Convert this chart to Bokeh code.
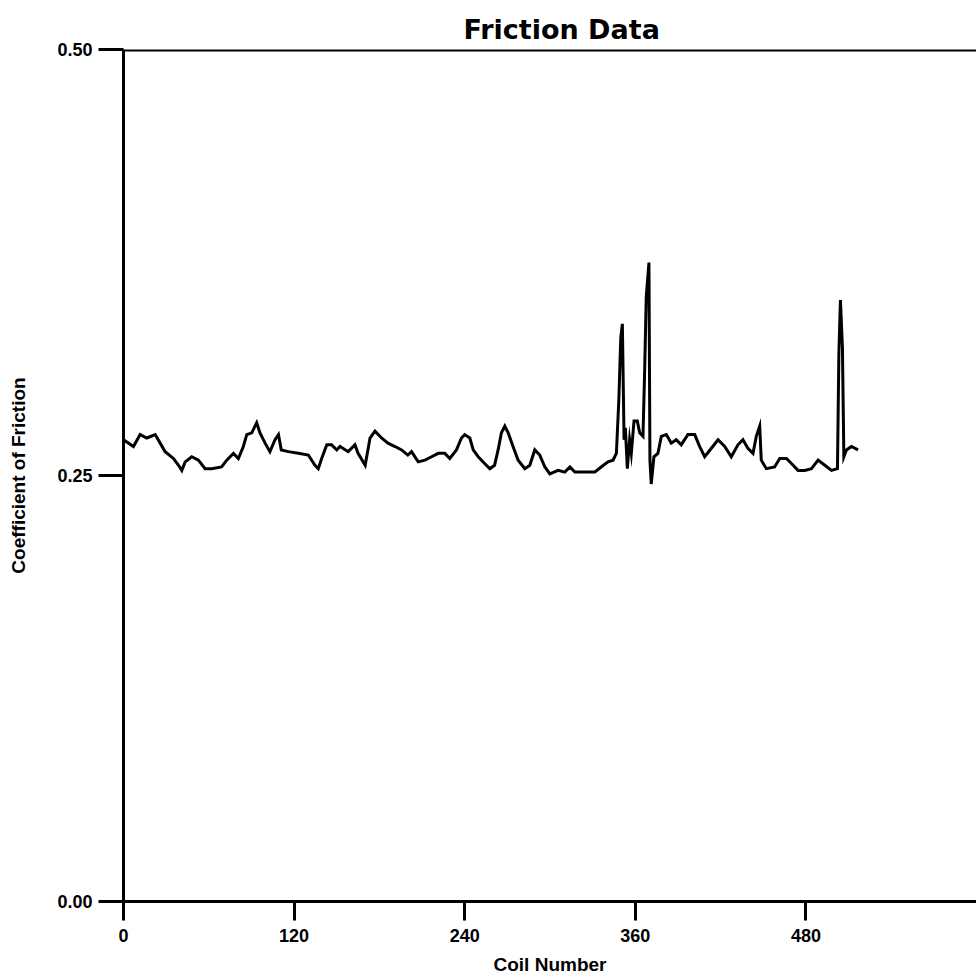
from bokeh.plotting import figure
from bokeh.models import Range1d, FixedTicker, PrintfTickFormatter, Span
from bokeh.embed import file_html
from bokeh.resources import INLINE

# Coil number (x) and coefficient of friction (y)
coil = [0, 7, 11.7, 16.4, 22.3, 25.8, 29.3, 35.1, 38.7, 41, 43.4, 48, 52.7, 57.4, 62,
        69, 72.6, 77.3, 80.8, 84.3, 86.7, 90.2, 93.7, 96, 99.6, 103, 106.6, 109, 111,
        116, 123, 130, 134.7, 137, 139.4, 143, 146.4, 150, 152.3, 158, 162.8, 165, 170,
        173.4, 176.9, 181.5, 186, 191, 195.6, 200,
        202.6, 207.3, 212, 216.7, 221.4, 226, 229.5, 234.2, 237.7, 240, 243.6, 246,
        249.5, 254, 257.7, 261, 263.5, 265.8, 268.2, 270.6, 274, 277.6, 282.3, 285.8,
        289.3, 292.8, 296.4, 299.9, 305.7, 310.4, 314, 317.5, 324.5, 331.5, 336, 340.8,
        344.3, 346.7, 348.4, 349.8, 350.9, 352.1, 353, 354.4, 356, 357.2, 359.1, 361.4,
        363.1, 365.4, 366.6, 367.7, 369.6, 370.3, 371.2, 373.1, 375.9, 378.3, 381.8,
        385.3, 388.8, 392.3, 397, 401.8, 405.3, 408.8, 413.5, 418.2, 422.9, 427.5,
        432.2, 435.7, 439.2, 442.8, 445.1, 447.5, 448.6, 452.2, 458, 461.6, 466.3,
        469.8, 474.5, 479.2, 483.9, 488.6, 493.3, 498, 502.2, 503.2, 504.3, 505.7,
        506.7, 508.5, 512, 516.7]
cof = [0.271, 0.267, 0.274, 0.272, 0.274, 0.269, 0.264, 0.260, 0.256, 0.253, 0.258,
       0.261, 0.259, 0.254, 0.254, 0.255, 0.259, 0.263, 0.260, 0.267, 0.274, 0.275,
       0.281, 0.275, 0.269, 0.264, 0.271, 0.274, 0.265, 0.264, 0.263, 0.262, 0.256,
       0.254, 0.260, 0.268, 0.268, 0.265, 0.267, 0.264, 0.268, 0.263, 0.256, 0.272,
       0.276, 0.272, 0.269, 0.267, 0.265, 0.262,
       0.264, 0.258, 0.259, 0.261, 0.263, 0.263, 0.260, 0.265, 0.272, 0.274, 0.272,
       0.265, 0.261, 0.257, 0.254, 0.256, 0.265, 0.275, 0.279, 0.275, 0.267, 0.259,
       0.254, 0.256, 0.265, 0.262, 0.255, 0.251, 0.253, 0.252, 0.255, 0.252, 0.252,
       0.252, 0.255, 0.258,
       0.259, 0.263, 0.294, 0.331, 0.339, 0.271, 0.278, 0.254, 0.271, 0.263, 0.282,
       0.282, 0.275, 0.273, 0.312, 0.355, 0.375, 0.259, 0.245, 0.261, 0.263, 0.273,
       0.274, 0.269, 0.271, 0.268, 0.274, 0.274, 0.267, 0.261, 0.266, 0.271, 0.267,
       0.261, 0.268, 0.271, 0.266, 0.263, 0.273, 0.279, 0.259, 0.254, 0.255, 0.260,
       0.260, 0.257, 0.253, 0.253, 0.254, 0.259, 0.256, 0.253, 0.254, 0.322, 0.353,
       0.325, 0.261, 0.265, 0.267, 0.265]

x_ticks = [0, 120, 240, 360, 480]
y_ticks = [0.0, 0.25, 0.5]

TICK_FONT = "Liberation Sans"
LABEL_FONT = "Liberation Sans"

p = figure(width=976, height=980, x_range=Range1d(0, 600), y_range=Range1d(0, 0.5),
           output_backend="svg", toolbar_location=None, title="Friction Data",
           min_border_left=123, min_border_right=0, min_border_top=49,
           min_border_bottom=79)

p.title.text_font = "DejaVu Sans"
p.title.text_font_size = "27px"
p.title.text_font_style = "bold"
p.title.align = "left"
p.title.offset = 340
p.title.text_color = "black"

p.grid.visible = False
p.outline_line_color = None
p.background_fill_color = "white"
p.border_fill_color = "white"

p.line(coil, cof, line_color="black", line_width=3, line_join="miter")

top = Span(location=0.5, dimension="width", line_color="black", line_width=4)
p.add_layout(top)

for ax in (p.xaxis[0], p.yaxis[0]):
    ax.axis_line_width = 3
    ax.axis_line_color = "black"
    ax.major_tick_line_width = 3
    ax.major_tick_line_color = "black"
    ax.major_tick_in = 0
    ax.minor_tick_line_color = None
    ax.major_label_text_font = TICK_FONT
    ax.major_label_text_font_size = "18px"
    ax.major_label_text_font_style = "bold"
    ax.major_label_text_color = "black"
    ax.axis_label_text_font = LABEL_FONT
    ax.axis_label_text_font_size = "19px"
    ax.axis_label_text_font_style = "bold"
    ax.axis_label_text_color = "black"

xa = p.xaxis[0]
xa.ticker = FixedTicker(ticks=x_ticks)
xa.axis_label = "Coil Number"
xa.major_tick_out = 19
xa.major_label_standoff = 8
xa.axis_label_standoff = 9

ya = p.yaxis[0]
ya.ticker = FixedTicker(ticks=y_ticks)
ya.formatter = PrintfTickFormatter(format="%.2f")
ya.axis_label = "Coefficient of Friction"
ya.major_tick_out = 25
ya.major_label_standoff = 6
ya.axis_label_standoff = 25

open("out.html", "w").write(file_html(p, INLINE))
